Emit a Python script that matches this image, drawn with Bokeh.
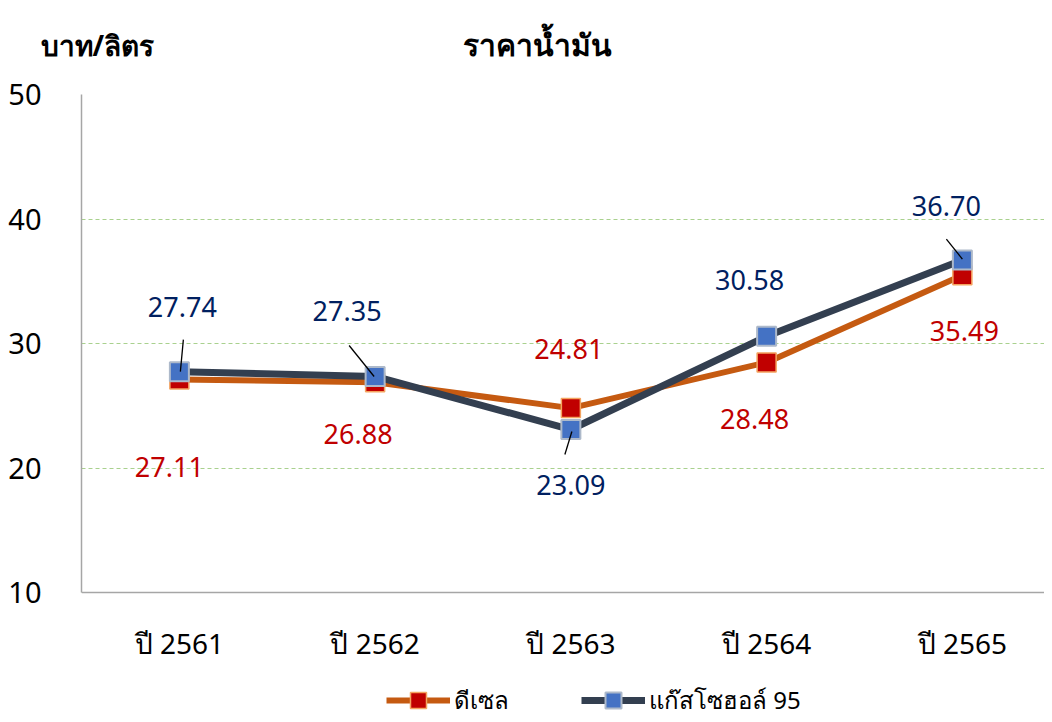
from bokeh.plotting import figure
from bokeh.models import Range1d, FixedTicker, Legend, LegendItem, ColumnDataSource, Label
from bokeh.core.properties import value
from bokeh.embed import file_html
from bokeh.resources import INLINE

# ---- data ----
categories = ["ปี 2561", "ปี 2562", "ปี 2563", "ปี 2564", "ปี 2565"]
diesel = [27.11, 26.88, 24.81, 28.48, 35.49]
gasohol95 = [27.74, 27.35, 23.09, 30.58, 36.70]
series_names = ["ดีเซล", "แก๊สโซฮอล์ 95"]
y_ticks = [10, 20, 30, 40, 50]
title_text = "ราคาน้ำมัน"
unit_text = "บาท/ลิตร"

# ---- style ----
FONT = "Noto Sans"
DIESEL_LINE = "#C55A11"
DIESEL_FILL = "#C00000"
DIESEL_EDGE = "#F4A460"
GAS_LINE = "#333F50"
GAS_FILL = "#4472C4"
GAS_EDGE = "#ADB9CA"
DIESEL_TXT = "#C00000"
GAS_TXT = "#002060"

# label offsets in pixels (dx, dy; dy positive = down)
diesel_off = [(-10, 88), (-17, 52), (-2, -59), (-12, 57), (2, 56)]
gas_off = [(3, -65), (-28, -65), (0, 55), (-17, -56), (-16, -54)]
# leader lines for gasohol labels (start offset px, end offset px)
leaders = {0: ((4, -32), (1, 0)), 1: ((-26, -31), (-1, 0)), 2: ((-6, 25), (1, 2)), 4: ((-16, -21), (0, -1))}

W, H = 1044, 720
MB_LEFT, MB_TOP = 81, 94
FRAME_TOP = MB_TOP + 1          # page row of the frame top
FRAME_W = W - MB_LEFT
FRAME_H = H - MB_TOP
PX_PER_X = 195.75
PX_PER_Y = 12.45
X0 = -0.5
X1 = X0 + FRAME_W / PX_PER_X
Y_TOP = y_ticks[-1]
Y_AXIS = y_ticks[0]
Y_BOTTOM = Y_TOP - FRAME_H / PX_PER_Y   # frame extends below the axis to hold labels and legend
px_x = 1 / PX_PER_X
px_y = 1 / PX_PER_Y

xs = list(range(len(categories)))

p = figure(width=W, height=H, output_backend="svg", toolbar_location=None,
           x_range=Range1d(X0, X1), y_range=Range1d(Y_BOTTOM, Y_TOP),
           min_border_left=MB_LEFT, min_border_right=0, min_border_top=MB_TOP,
           min_border_bottom=0)
p.title.text = ""
p.outline_line_color = None
p.background_fill_color = "white"

xa, ya = p.xaxis[0], p.yaxis[0]
xa.ticker = FixedTicker(ticks=xs)
xa.major_label_overrides = {i: c for i, c in enumerate(categories)}
xa.fixed_location = Y_AXIS
ya.ticker = FixedTicker(ticks=y_ticks)
ya.bounds = (Y_AXIS, Y_TOP)
for ax in (xa, ya):
    ax.axis_line_color = "#A6A6A6"
    ax.axis_line_width = 1.5
    ax.major_tick_line_color = None
    ax.minor_tick_line_color = None
    ax.major_label_text_font = FONT
    ax.major_label_text_color = "#000000"
xa.major_label_text_font_size = "28px"
ya.major_label_text_font_size = "29px"
ya.major_label_standoff = 34
xa.major_label_standoff = 25

p.xgrid[0].grid_line_color = None
p.ygrid[0].grid_line_color = "#A9D18E"
p.ygrid[0].grid_line_dash = "4 3"
p.ygrid[0].grid_line_width = 1

l1 = p.line(xs, diesel, line_color=DIESEL_LINE, line_width=6)
m1 = p.scatter(xs, diesel, marker="square", size=19, fill_color=DIESEL_FILL,
               line_color=DIESEL_EDGE, line_width=1.5)
l2 = p.line(xs, gasohol95, line_color=GAS_LINE, line_width=7)
m2 = p.scatter(xs, gasohol95, marker="square", size=19, fill_color=GAS_FILL,
               line_color=GAS_EDGE, line_width=2)

lx0, ly0, lx1, ly1 = [], [], [], []
for i, ((sx, sy), (ex, ey)) in leaders.items():
    lx0.append(xs[i] + sx * px_x); ly0.append(gasohol95[i] - sy * px_y)
    lx1.append(xs[i] + ex * px_x); ly1.append(gasohol95[i] - ey * px_y)
p.segment(lx0, ly0, lx1, ly1, line_color="black", line_width=1.3)

def add_labels(vals, offs, color):
    lx = [x + o[0] * px_x for x, o in zip(xs, offs)]
    ly = [v - o[1] * px_y for v, o in zip(vals, offs)]
    src = ColumnDataSource(dict(x=lx, y=ly, t=["%.2f" % v for v in vals]))
    p.text("x", "y", text="t", source=src,
           text_align="center", text_baseline="middle", text_color=color,
           text_font=value(FONT), text_font_size="27px")

add_labels(diesel, diesel_off, DIESEL_TXT)
add_labels(gasohol95, gas_off, GAS_TXT)

# header texts placed in the panel above the frame
def page_x(px):
    return X0 + (px - MB_LEFT) * px_x

def page_y(py):
    return Y_TOP + (FRAME_TOP - py) * px_y

p.add_layout(Label(x=page_x(40), y=page_y(45), text=unit_text, text_align="left",
                   text_baseline="middle", text_font=FONT, text_font_size="28px",
                   text_font_style="bold", text_color="#000000"), "above")
p.add_layout(Label(x=page_x(537), y=page_y(45), text=title_text, text_align="center",
                   text_baseline="middle", text_font=FONT, text_font_size="30px",
                   text_font_style="bold", text_color="#000000"), "above")

legend = Legend(items=[LegendItem(label=series_names[0], renderers=[l1, m1]),
                       LegendItem(label=series_names[1], renderers=[l2, m2])],
                orientation="horizontal", location=(305, 0),
                label_text_font=FONT, label_text_font_size="24px", label_text_color="#000000",
                glyph_width=64, glyph_height=40, spacing=72, padding=0, margin=0,
                border_line_color=None, background_fill_alpha=0, label_standoff=4)
p.add_layout(legend)

open("out.html", "w").write(file_html(p, INLINE))
